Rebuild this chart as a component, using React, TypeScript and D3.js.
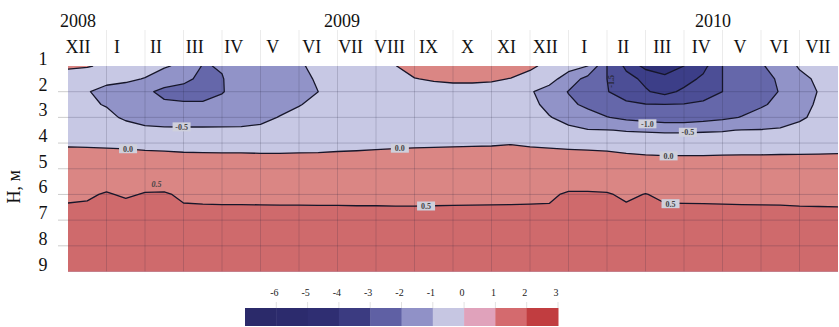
import { useMemo } from "react";
import * as d3 from "d3";

// month labels, Dec 2008 .. Jul 2010
const months = ["XII", "I", "II", "III", "IV", "V", "VI", "VII", "VIII", "IX", "X", "XI", "XII", "I", "II", "III", "IV", "V", "VI", "VII"];
const years = [
  { label: "2008", t: 0.26 },
  { label: "2009", t: 7.12 },
  { label: "2010", t: 16.75 },
];
const depthTicks = [1, 2, 3, 4, 5, 6, 7, 8, 9];

// temperature grid, rows = depth 1.0 .. 9.0 m every 0.5 m,
// columns = time 0 .. 20 months every half month
const temperature: number[][] = [
  // 1.0
  [0.1, 0.04, -0.1, -0.2, -0.3, -0.45, -0.6, -1.03, -0.97, -0.75, -0.7, -0.65, -0.55, -0.4, -0.3, -0.25, -0.15, -0.02, 0.25, 0.38, 0.45, 0.45, 0.4, 0.3, 0.08, -0.12, -0.3, -0.5, -1.5, -2.1, -2.65, -2.8, -2.5, -2.15, -1.5, -1.25, -1.05, -0.8, -0.45, -0.35, -0.3],
  // 1.5
  [-0.3, -0.35, -0.4, -0.42, -0.52, -0.75, -0.9, -1.1, -1.02, -0.8, -0.72, -0.68, -0.62, -0.45, -0.3, -0.28, -0.25, -0.2, -0.02, 0.06, 0.12, 0.12, 0.08, -0.02, -0.15, -0.3, -0.75, -1.15, -1.5, -1.85, -2.1, -2.35, -2.2, -1.9, -1.5, -1.3, -1.12, -0.95, -0.62, -0.42, -0.35],
  // 2.0
  [-0.4, -0.48, -0.6, -0.7, -0.9, -1.12, -1.15, -1.15, -1.02, -0.85, -0.78, -0.72, -0.65, -0.5, -0.38, -0.32, -0.3, -0.3, -0.28, -0.25, -0.25, -0.25, -0.26, -0.3, -0.45, -0.7, -1.02, -1.25, -1.48, -1.7, -1.95, -2.15, -1.9, -1.7, -1.5, -1.3, -1.15, -0.98, -0.7, -0.48, -0.4],
  // 2.5
  [-0.38, -0.45, -0.52, -0.62, -0.75, -0.92, -0.95, -0.95, -0.9, -0.8, -0.72, -0.66, -0.52, -0.4, -0.35, -0.32, -0.3, -0.3, -0.3, -0.3, -0.3, -0.3, -0.3, -0.3, -0.4, -0.6, -0.9, -1.1, -1.3, -1.42, -1.48, -1.49, -1.48, -1.42, -1.3, -1.18, -1.05, -0.9, -0.62, -0.45, -0.38],
  // 3.0
  [-0.35, -0.38, -0.42, -0.55, -0.68, -0.72, -0.74, -0.74, -0.72, -0.7, -0.62, -0.48, -0.38, -0.34, -0.32, -0.3, -0.3, -0.3, -0.3, -0.3, -0.3, -0.3, -0.3, -0.3, -0.38, -0.48, -0.62, -0.8, -0.98, -1.12, -1.22, -1.32, -1.32, -1.22, -1.1, -0.98, -0.85, -0.72, -0.55, -0.42, -0.36],
  // 3.5
  [-0.3, -0.3, -0.32, -0.36, -0.4, -0.42, -0.42, -0.42, -0.42, -0.42, -0.4, -0.36, -0.32, -0.3, -0.28, -0.26, -0.25, -0.25, -0.25, -0.25, -0.25, -0.25, -0.25, -0.25, -0.3, -0.35, -0.42, -0.48, -0.49, -0.52, -0.53, -0.54, -0.54, -0.53, -0.52, -0.49, -0.48, -0.45, -0.4, -0.36, -0.34],
  // 4.0
  [-0.1, -0.12, -0.14, -0.16, -0.2, -0.22, -0.25, -0.26, -0.27, -0.27, -0.28, -0.28, -0.27, -0.26, -0.23, -0.21, -0.18, -0.15, -0.13, -0.12, -0.1, -0.09, -0.08, -0.04, -0.1, -0.14, -0.17, -0.19, -0.22, -0.28, -0.32, -0.34, -0.34, -0.34, -0.33, -0.32, -0.32, -0.32, -0.31, -0.3, -0.29],
  // 4.5
  [0.24, 0.23, 0.21, 0.19, 0.15, 0.13, 0.1, 0.09, 0.08, 0.08, 0.07, 0.07, 0.08, 0.09, 0.12, 0.14, 0.17, 0.2, 0.22, 0.23, 0.24, 0.26, 0.27, 0.31, 0.24, 0.21, 0.18, 0.16, 0.13, 0.07, 0.03, 0.01, 0.01, 0.01, 0.02, 0.03, 0.03, 0.04, 0.04, 0.05, 0.06],
  // 5.0
  [0.36, 0.36, 0.36, 0.36, 0.36, 0.36, 0.36, 0.36, 0.36, 0.36, 0.36, 0.36, 0.36, 0.36, 0.36, 0.36, 0.36, 0.36, 0.36, 0.36, 0.36, 0.36, 0.36, 0.36, 0.36, 0.36, 0.36, 0.36, 0.36, 0.36, 0.36, 0.36, 0.36, 0.36, 0.36, 0.36, 0.36, 0.36, 0.36, 0.36, 0.36],
  // 5.5
  [0.42, 0.42, 0.42, 0.42, 0.42, 0.42, 0.42, 0.42, 0.42, 0.42, 0.42, 0.42, 0.42, 0.42, 0.42, 0.42, 0.42, 0.42, 0.42, 0.42, 0.42, 0.42, 0.42, 0.42, 0.42, 0.42, 0.42, 0.42, 0.42, 0.42, 0.42, 0.42, 0.42, 0.42, 0.42, 0.42, 0.42, 0.42, 0.42, 0.42, 0.42],
  // 6.0
  [0.47, 0.47, 0.52, 0.47, 0.515, 0.52, 0.47, 0.47, 0.47, 0.47, 0.47, 0.47, 0.47, 0.47, 0.47, 0.47, 0.47, 0.47, 0.47, 0.47, 0.47, 0.47, 0.47, 0.47, 0.47, 0.47, 0.525, 0.525, 0.515, 0.47, 0.505, 0.47, 0.47, 0.47, 0.47, 0.47, 0.47, 0.47, 0.47, 0.47, 0.47],
  // 6.5
  [0.515, 0.53, 0.6, 0.57, 0.6, 0.6, 0.515, 0.51, 0.508, 0.508, 0.507, 0.506, 0.506, 0.505, 0.505, 0.504, 0.504, 0.503, 0.503, 0.504, 0.505, 0.506, 0.507, 0.508, 0.51, 0.513, 0.6, 0.6, 0.6, 0.52, 0.6, 0.515, 0.513, 0.512, 0.51, 0.508, 0.507, 0.506, 0.503, 0.502, 0.501],
  // 7.0
  [0.65, 0.65, 0.65, 0.65, 0.65, 0.65, 0.65, 0.65, 0.65, 0.65, 0.65, 0.65, 0.65, 0.65, 0.65, 0.65, 0.65, 0.65, 0.65, 0.65, 0.65, 0.65, 0.65, 0.65, 0.65, 0.65, 0.65, 0.65, 0.65, 0.65, 0.65, 0.65, 0.65, 0.65, 0.65, 0.65, 0.65, 0.65, 0.65, 0.65, 0.65],
  // 7.5
  [0.78, 0.78, 0.78, 0.78, 0.78, 0.78, 0.78, 0.78, 0.78, 0.78, 0.78, 0.78, 0.78, 0.78, 0.78, 0.78, 0.78, 0.78, 0.78, 0.78, 0.78, 0.78, 0.78, 0.78, 0.78, 0.78, 0.78, 0.78, 0.78, 0.78, 0.78, 0.78, 0.78, 0.78, 0.78, 0.78, 0.78, 0.78, 0.78, 0.78, 0.78],
  // 8.0
  [0.9, 0.9, 0.9, 0.9, 0.9, 0.9, 0.9, 0.9, 0.9, 0.9, 0.9, 0.9, 0.9, 0.9, 0.9, 0.9, 0.9, 0.9, 0.9, 0.9, 0.9, 0.9, 0.9, 0.9, 0.9, 0.9, 0.9, 0.9, 0.9, 0.9, 0.9, 0.9, 0.9, 0.9, 0.9, 0.9, 0.9, 0.9, 0.9, 0.9, 0.9],
  // 8.5
  [1.0, 1.0, 1.0, 1.0, 1.0, 1.0, 1.0, 1.0, 1.0, 1.0, 1.0, 1.0, 1.0, 1.0, 1.0, 1.0, 1.0, 1.0, 1.0, 1.0, 1.0, 1.0, 1.0, 1.0, 1.0, 1.0, 1.0, 1.0, 1.0, 1.0, 1.0, 1.0, 1.0, 1.0, 1.0, 1.0, 1.0, 1.0, 1.0, 1.0, 1.0],
  // 9.0
  [1.1, 1.1, 1.1, 1.1, 1.1, 1.1, 1.1, 1.1, 1.1, 1.1, 1.1, 1.1, 1.1, 1.1, 1.1, 1.1, 1.1, 1.1, 1.1, 1.1, 1.1, 1.1, 1.1, 1.1, 1.1, 1.1, 1.1, 1.1, 1.1, 1.1, 1.1, 1.1, 1.1, 1.1, 1.1, 1.1, 1.1, 1.1, 1.1, 1.1, 1.1],
];
const gridStepT = 0.5;
const gridStepD = 0.5;

const levels = [-2.5, -2, -1.5, -1, -0.5, 0, 0.5];
const levelFills = ["#3c3e88", "#4c4e96", "#6567aa", "#9193c8", "#c7c8e4", "#da8684", "#cf6a6c"];
const coldestFill = "#2f3177";

// contour labels in data units (month, depth)
const contourLabels = [
  { text: "0.0", t: 1.56, d: 4.22, box: true },
  { text: "-0.5", t: 2.95, d: 3.37, box: true },
  { text: "0.5", t: 2.3, d: 5.8, box: false },
  { text: "0.0", t: 8.62, d: 4.2, box: true },
  { text: "0.5", t: 9.3, d: 6.45, box: true },
  { text: "-1.0", t: 15.05, d: 3.25, box: true },
  { text: "-0.5", t: 16.1, d: 3.58, box: true },
  { text: "0.0", t: 15.6, d: 4.5, box: true },
  { text: "0.5", t: 15.65, d: 6.36, box: true },
];

const scaleTicks = [-6, -5, -4, -3, -2, -1, 0, 1, 2, 3];
const scaleColors = ["#2b2a6a", "#2c2b6d", "#2f2e72", "#3b3b81", "#5f60a4", "#9091c7", "#c6c6e2", "#e0a2bb", "#d46a6e", "#c13d40"];

const W = 839;
const H = 327;
const serif = "'Liberation Serif', 'DejaVu Serif', serif";

export default function App() {
  const plot = { l: 68, r: 838, t: 66, b: 271.5 };
  const x = d3.scaleLinear().domain([0, 20]).range([plot.l, plot.r]);
  const y = d3.scaleLinear().domain([1, 9]).range([plot.t, plot.b]);
  const xm = d3.scalePoint<number>().domain(months.map((_, i) => i)).range([78, 818]);
  const cb = d3.scaleLinear().domain([-7, 3]).range([245, 558]);

  const { fills, path } = useMemo(() => {
    const nx = temperature[0].length;
    const ny = temperature.length;
    const gen = d3.contours().size([nx, ny]).thresholds(levels);
    const fills = gen(temperature.flat());
    const proj = d3.geoTransform({
      point(px: number, py: number) {
        // grid node i sits at i + 0.5 in contour space
        (this as any).stream.point(x((px - 0.5) * gridStepT), y(1 + (py - 0.5) * gridStepD));
      },
    });
    return { fills, path: d3.geoPath(proj) };
  }, []);

  const vGrid = d3.range(1, 20);
  const hGrid = d3.range(2, 9);

  return (
    <svg width={W} height={H} style={{ position: "absolute", left: 0, top: 0, background: "#fff" }} fontFamily={serif}>
      <defs>
        <clipPath id="plotClip">
          <rect x={plot.l} y={plot.t} width={plot.r - plot.l} height={plot.b - plot.t} />
        </clipPath>
      </defs>

      {/* header grid lines */}
      {vGrid.map((t) => (
        <line key={"hv" + t} x1={x(t)} x2={x(t)} y1={30} y2={plot.t} stroke="#000" strokeOpacity={0.1} strokeWidth={0.8} />
      ))}
      {hGrid.map((d) => (
        <line key={"ht" + d} x1={58} x2={plot.l} y1={y(d)} y2={y(d)} stroke="#000" strokeOpacity={0.25} strokeWidth={0.8} />
      ))}

      <g clipPath="url(#plotClip)">
        <rect x={plot.l} y={plot.t} width={plot.r - plot.l} height={plot.b - plot.t} fill={coldestFill} />
        {fills.map((c, i) => (
          <path key={"f" + i} d={path(c as any) ?? ""} fill={levelFills[i]} stroke={levelFills[i]} strokeWidth={0.4} />
        ))}
        {vGrid.map((t) => (
          <line key={"v" + t} x1={x(t)} x2={x(t)} y1={plot.t} y2={plot.b} stroke="#20203a" strokeOpacity={0.22} strokeWidth={0.8} />
        ))}
        {hGrid.map((d) => (
          <line key={"h" + d} x1={plot.l} x2={plot.r} y1={y(d)} y2={y(d)} stroke="#20203a" strokeOpacity={0.25} strokeWidth={0.8} />
        ))}
        {fills.map((c, i) => (
          <path key={"l" + i} d={path(c as any) ?? ""} fill="none" stroke="#16162a" strokeWidth={1.3} strokeLinejoin="round" />
        ))}
        {contourLabels.map((lb, i) => (
          <g key={"cl" + i} transform={`translate(${x(lb.t)},${y(lb.d)})`}>
            {lb.box && <rect x={-9} y={-4.5} width={18} height={9} fill="#cfd0dc" />}
            <text textAnchor="middle" dy={lb.box ? 3 : -2} fontSize={8} fontWeight="bold" fill="#444" fontStyle={lb.box ? "normal" : "italic"}>
              {lb.text}
            </text>
          </g>
        ))}
        <text transform={`translate(${x(14.1)},${y(1.6)}) rotate(-90)`} textAnchor="middle" dy={3} fontSize={8} fontWeight="bold" fill="#2a2a3a">
          -1.5
        </text>
      </g>

      {/* years and months */}
      {years.map((yr) => (
        <text key={yr.label} x={x(yr.t)} y={27} textAnchor="middle" fontSize={18} fill="#111">
          {yr.label}
        </text>
      ))}
      {months.map((m, i) => (
        <text key={"m" + i} x={xm(i)} y={53} textAnchor="middle" fontSize={18} fill="#111">
          {m}
        </text>
      ))}

      {/* depth axis */}
      {depthTicks.map((d) => (
        <text key={"d" + d} x={43} y={y(d) - 1} textAnchor="middle" fontSize={18} fill="#111">
          {d}
        </text>
      ))}
      <text transform={`translate(20,${y(5.7)}) rotate(-90)`} textAnchor="middle" fontSize={18} fill="#111">
        H, м
      </text>

      {/* colour scale */}
      {scaleColors.map((c, i) => (
        <rect key={"cb" + i} x={cb(-7 + i)} y={308} width={cb(-6 + i) - cb(-7 + i) + 0.5} height={18} fill={c} />
      ))}
      {scaleTicks.map((v) => (
        <g key={"ct" + v}>
          <line x1={cb(v)} x2={cb(v)} y1={302} y2={308} stroke="#000" strokeOpacity={0.15} strokeWidth={0.8} />
          <text x={cb(v) - 2} y={296} textAnchor="middle" fontSize={10} fill="#222">
            {v}
          </text>
        </g>
      ))}
    </svg>
  );
}
